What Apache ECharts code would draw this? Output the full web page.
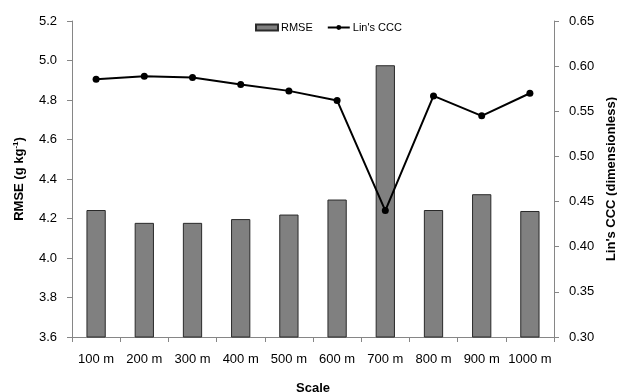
<!DOCTYPE html>
<html><head><meta charset="utf-8">
<script src="https://cdn.jsdelivr.net/npm/echarts@6/dist/echarts.min.js"></script>
<style>html,body{margin:0;padding:0;background:#fff}#c{width:617px;height:392px}</style>
</head><body><div id="c"></div>
<script>
const categories = ['100 m','200 m','300 m','400 m','500 m','600 m','700 m','800 m','900 m','1000 m'];
const rmse = [4.243, 4.178, 4.178, 4.197, 4.220, 4.296, 4.976, 4.243, 4.323, 4.238];
const ccc = [0.5855, 0.5889, 0.5874, 0.5797, 0.5726, 0.5620, 0.4400, 0.5670, 0.5450, 0.5700];

const chart = echarts.init(document.getElementById('c'), null, {renderer:'canvas'});
const FONT = 'Liberation Sans, Arial, sans-serif';
const axisGray = '#868686';
chart.setOption({
  animation: false,
  textStyle: {fontFamily: FONT},
  grid: {left: 72, right: 63, top: 21, bottom: 55, containLabel: false, outerBoundsMode: 'none'},
  legend: {
    top: 17, left: 250, itemGap: 14, itemWidth: 22, itemHeight: 6,
    textStyle: {fontFamily: FONT, fontSize: 11, color: '#000', padding: [0,0,0,-2]},
    data: [{name:'RMSE', icon:'rect'}, {name:"Lin's CCC"}]
  },
  xAxis: {
    type: 'category', data: categories,
    name: 'Scale', nameLocation: 'middle', nameGap: 45,
    nameTextStyle: {fontFamily: FONT, fontSize: 13, fontWeight: 'bold', color: '#000'},
    axisLine: {lineStyle: {color: axisGray, width: 1}},
    axisTick: {show: true, length: 5, lineStyle: {color: axisGray}},
    axisLabel: {color: '#000', fontSize: 13, margin: 16, interval: 0, fontFamily: FONT}
  },
  yAxis: [{
    type: 'value', min: 3.6, max: 5.2, interval: 0.2,
    name: '{a|RMSE (g kg}{s|-1}{a|)}', nameLocation: 'middle', nameGap: 46,
    nameTextStyle: {rich: {
      a: {fontFamily: FONT, fontSize: 13, fontWeight: 'bold', color: '#000'},
      s: {fontFamily: FONT, fontSize: 8, fontWeight: 'bold', color: '#000', verticalAlign: 'top', padding: [0,0,6,0]}
    }},
    axisLine: {show: true, lineStyle: {color: axisGray}},
    axisTick: {show: true, length: 5, lineStyle: {color: axisGray}},
    splitLine: {show: false},
    axisLabel: {color: '#000', fontSize: 13, margin: 15, fontFamily: FONT, formatter: v => v.toFixed(1)}
  }, {
    type: 'value', min: 0.30, max: 0.65, interval: 0.05, position: 'right',
    name: "Lin's CCC (dimensionless)", nameLocation: 'middle', nameGap: 50, nameRotate: 90,
    nameTextStyle: {fontFamily: FONT, fontSize: 13, fontWeight: 'bold', color: '#000'},
    axisLine: {show: true, lineStyle: {color: axisGray}},
    axisTick: {show: true, length: 5, lineStyle: {color: axisGray}},
    splitLine: {show: false},
    axisLabel: {color: '#000', fontSize: 13, margin: 15, fontFamily: FONT, formatter: v => v.toFixed(2)}
  }],
  series: [{
    name: 'RMSE', type: 'bar', data: rmse, yAxisIndex: 0, barWidth: '40%',
    itemStyle: {color: '#808080', borderColor: '#2a2a2a', borderWidth: 1}
  }, {
    name: "Lin's CCC", type: 'line', data: ccc, yAxisIndex: 1,
    symbol: 'circle', symbolSize: 7,
    lineStyle: {color: '#000', width: 2},
    itemStyle: {color: '#000'}
  }]
});
</script></body></html>
